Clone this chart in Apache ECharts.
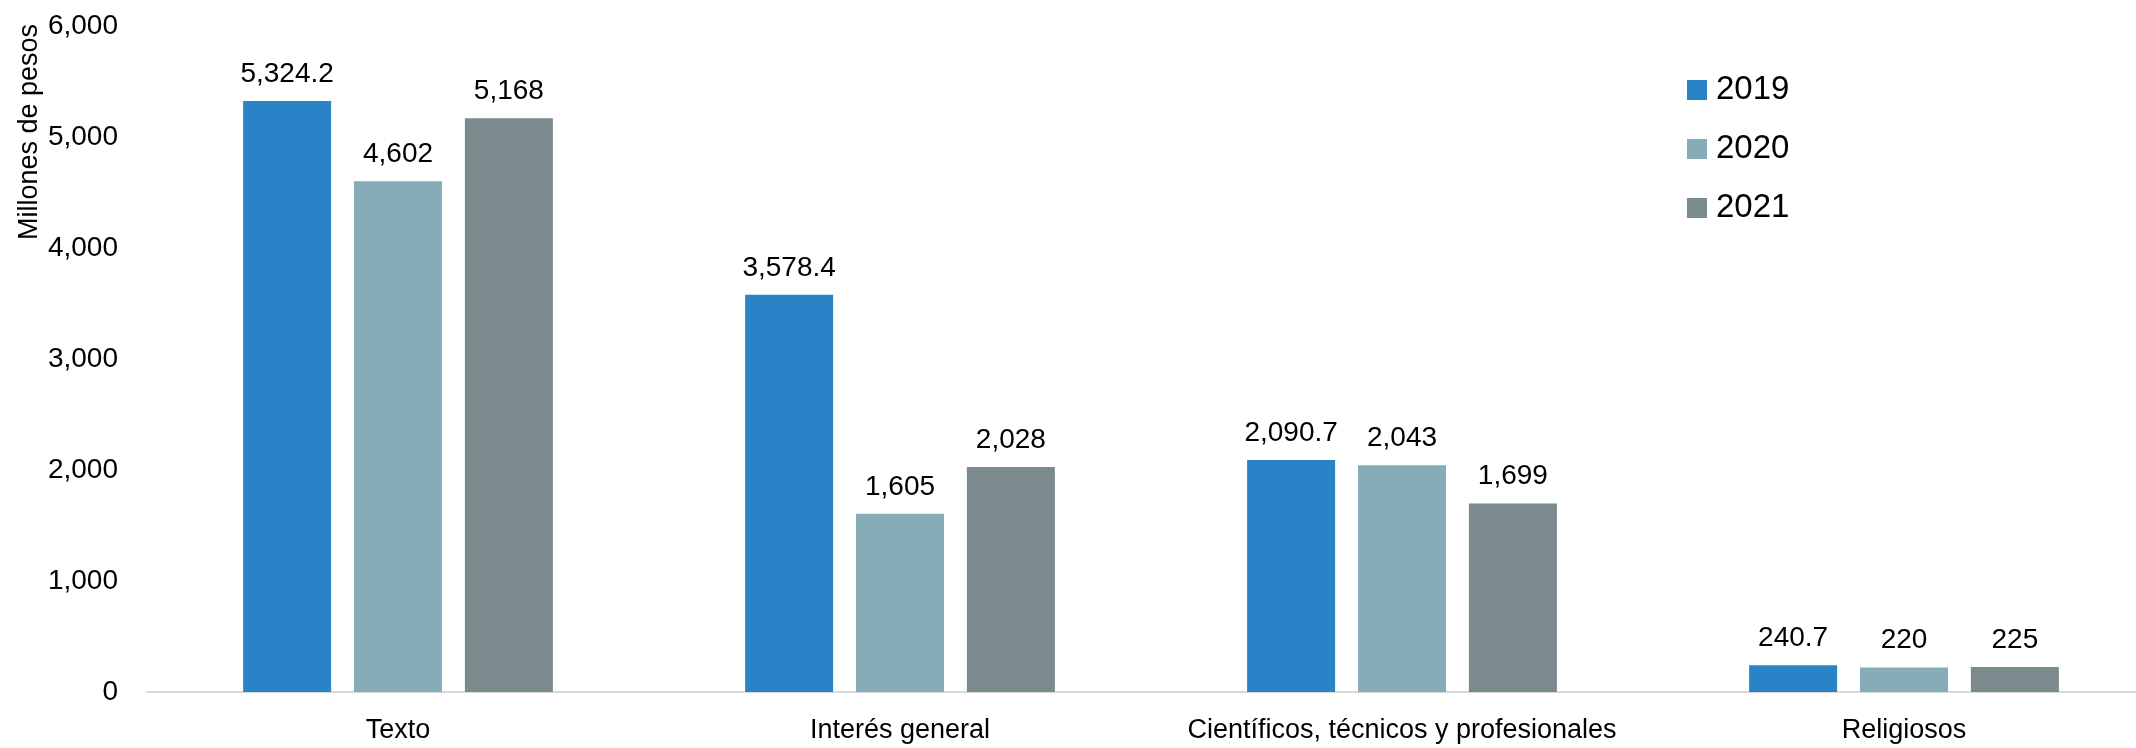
<!DOCTYPE html>
<html>
<head>
<meta charset="utf-8">
<script src="https://cdn.jsdelivr.net/npm/echarts@6/dist/echarts.min.js"></script>
<style>
html,body{margin:0;padding:0;background:#fff;}
#chart{width:2136px;height:748px;}
</style>
</head>
<body>
<div id="chart"></div>
<script>
const categories = ['Texto', 'Interés general', 'Científicos, técnicos y profesionales', 'Religiosos'];
const seriesNames = ['2019', '2020', '2021'];
const values2019 = [5324.2, 3578.4, 2090.7, 240.7];
const values2020 = [4602, 1605, 2043, 220];
const values2021 = [5168, 2028, 1699, 225];
const colors = ['#2983c6', '#86adb7', '#7b8b8d'];
const yTicks = { min: 0, max: 6000, interval: 1000 };
const yName = 'Millones de pesos';

const FONT = '"Liberation Sans", Arial, sans-serif';

function fmt(v) {
  return v.toLocaleString('en-US', { maximumFractionDigits: 1 });
}

const allValues = [values2019, values2020, values2021];

const chart = echarts.init(document.getElementById('chart'));
chart.setOption({
  backgroundColor: '#ffffff',
  animation: false,
  textStyle: { fontFamily: FONT },
  grid: { left: 147, width: 2008, top: 26, height: 666, containLabel: false, outerBoundsMode: 'none' },
  legend: {
    orient: 'vertical',
    left: 1682,
    top: 68,
    icon: 'rect',
    itemWidth: 20,
    itemHeight: 20,
    itemGap: 25,
    data: seriesNames,
    textStyle: { fontFamily: FONT, fontSize: 33, color: '#000', lineHeight: 34, padding: [0, 0, 0, 4] }
  },
  xAxis: {
    type: 'category',
    data: categories,
    axisLine: { show: true, lineStyle: { color: '#d9d9d9', width: 2 } },
    axisTick: { show: false },
    axisLabel: { fontFamily: FONT, fontSize: 27, color: '#000', margin: 25, interval: 0 }
  },
  yAxis: {
    type: 'value',
    min: yTicks.min,
    max: yTicks.max,
    interval: yTicks.interval,
    axisLine: { show: false },
    axisTick: { show: false },
    splitLine: { show: false },
    axisLabel: { fontFamily: FONT, fontSize: 28, color: '#000', margin: 29, formatter: v => fmt(v) }
  },
  graphic: [{
    type: 'text',
    x: 30,
    y: 132,
    rotation: Math.PI / 2,
    style: {
      text: yName,
      fontFamily: FONT,
      fontSize: 27,
      fill: '#000',
      textAlign: 'center',
      textVerticalAlign: 'middle'
    }
  }],
  series: seriesNames.map((name, i) => ({
    name: name,
    type: 'bar',
    data: allValues[i],
    barWidth: 88,
    barGap: '26%',
    itemStyle: { color: colors[i] },
    label: {
      show: true,
      position: 'top',
      distance: 13,
      fontFamily: FONT,
      fontSize: 28,
      color: '#000',
      formatter: p => fmt(p.value)
    }
  }))
});
</script>
</body>
</html>
